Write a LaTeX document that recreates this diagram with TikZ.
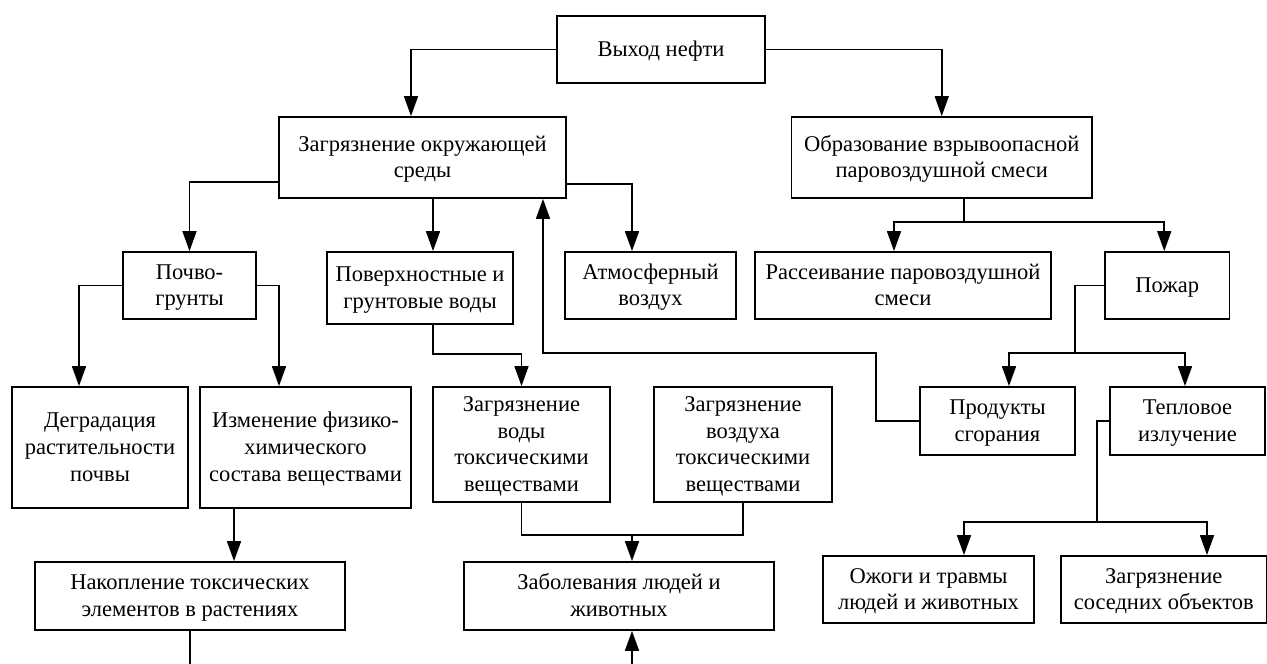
\documentclass[tikz,border=0pt]{standalone}
\usepackage{fontspec}
\setmainfont{Liberation Serif}
\usetikzlibrary{arrows.meta}
\newcommand\topstr{\rule{0pt}{19pt}}
\newcommand\botstr{\rule[-5pt]{0pt}{5pt}}
\tikzset{
  box/.style={draw, line width=1.8pt, rectangle, align=center, inner sep=0pt,
    font=\fontsize{22.5}{26.7}\selectfont},
  conn/.style={line width=1.6pt},
  arr/.style={conn, -{Triangle[length=20pt,width=14pt]}},
}
\begin{document}
\begin{tikzpicture}[x=1pt,y=1pt]
\useasboundingbox (0,0) rectangle (1267,-664);
% boxes
\node[box, minimum width=208pt, minimum height=67pt] (out) at (661,-49.3) {\topstr Выход нефти\botstr};
\node[box, minimum width=287pt, minimum height=81pt] (env) at (422.5,-157.5) {\topstr Загрязнение окружающей\\среды\botstr};
\node[box, minimum width=300.5pt, minimum height=81pt] (mix) at (941.75,-157.5) {\topstr Образование взрывоопасной\\паровоздушной смеси\botstr};
\node[box, minimum width=133pt, minimum height=67pt] (soil) at (189.5,-285.5) {\topstr Почво-\\грунты\botstr};
\node[box, minimum width=186pt, minimum height=72pt] (water) at (420,-288) {\topstr Поверхностные и\\грунтовые воды\botstr};
\node[box, minimum width=171pt, minimum height=67pt] (air) at (650.5,-285.5) {\topstr Атмосферный\\воздух\botstr};
\node[box, minimum width=296pt, minimum height=67pt] (disp) at (903,-285.5) {\topstr Рассеивание паровоздушной\\смеси\botstr};
\node[box, minimum width=124.5pt, minimum height=67pt] (fire) at (1167.25,-285.5) {\topstr Пожар\botstr};
\node[box, minimum width=176pt, minimum height=121pt] (degr) at (100,-447.5) {\topstr Деградация\\растительности\\почвы\botstr};
\node[box, minimum width=211pt, minimum height=121pt] (chem) at (305.5,-447.5) {\topstr Изменение физико-\\химического\\состава веществами\botstr};
\node[box, minimum width=177pt, minimum height=115pt] (wpol) at (521.5,-444.5) {\topstr Загрязнение\\воды\\токсическими\\веществами\botstr};
\node[box, minimum width=178pt, minimum height=115pt] (apol) at (743,-444.5) {\topstr Загрязнение\\воздуха\\токсическими\\веществами\botstr};
\node[box, minimum width=155pt, minimum height=68pt] (prod) at (997.5,-421) {\topstr Продукты\\сгорания\botstr};
\node[box, minimum width=155pt, minimum height=68pt] (heat) at (1187.5,-421) {\topstr Тепловое\\излучение\botstr};
\node[box, minimum width=310pt, minimum height=68pt] (accum) at (190,-596) {\topstr Накопление токсических\\элементов в растениях\botstr};
\node[box, minimum width=310pt, minimum height=68pt] (ill) at (619,-596) {\topstr Заболевания людей и\\животных\botstr};
\node[box, minimum width=211pt, minimum height=67pt] (burn) at (928.5,-589.5) {\topstr Ожоги и травмы\\людей и животных\botstr};
\node[box, minimum width=206pt, minimum height=67pt] (nbr) at (1163.75,-589.5) {\topstr Загрязнение\\соседних объектов\botstr};
% junction coordinates
\coordinate (j1) at (876,-353);
\coordinate (j2) at (543,-353);
\coordinate (jill) at (632,-535);
\coordinate (illin) at (632,-670);
\coordinate (accend) at (190,-670);
\coordinate (jm) at (964,-222);
\coordinate (jf) at (1075,-353);
\coordinate (jh) at (1097,-522);
% connectors
\draw[arr] (out.west) -| ([xshift=-11.5pt]env.north);
\draw[arr] (out.east) -| (mix.north);
\draw[arr] ([yshift=-24.5pt]env.west) -| (soil.north);
\draw[arr] ([xshift=10.5pt]env.south) -- ([xshift=10.5pt]env.south |- water.north);
\draw[arr] ([yshift=-26.5pt]env.east) -| ([xshift=-18.5pt]air.north);
\draw[arr] (prod.west) -| (j1) -- (j2) -- (j2 |- env.south);
\draw[arr] (soil.west) -| ([xshift=-21pt]degr.north);
\draw[arr] (soil.east) -| ([xshift=-26.5pt]chem.north);
\draw[arr] ([xshift=13pt]water.south) -- ++(0,-29) -| (wpol.north);
\draw[arr] ([xshift=-71.5pt]chem.south) -- ([xshift=-71.5pt]chem.south |- accum.north);
\draw[conn] (accum.south) -- (accend);
\draw[conn] (wpol.south) |- (jill);
\draw[conn] (apol.south) |- (jill);
\draw[arr] (jill) -- (jill |- ill.north);
\draw[arr] (illin) -- (illin |- ill.south);
\draw[conn] ([xshift=22.25pt]mix.south) -- (jm);
\draw[arr] (jm) -| ([xshift=-9pt]disp.north);
\draw[arr] (jm) -| ([xshift=-3pt]fire.north);
\draw[conn] (fire.west) -| (jf);
\draw[arr] (jf) -| ([xshift=11.5pt]prod.north);
\draw[arr] (jf) -| ([xshift=-2.5pt]heat.north);
\draw[conn] (heat.west) -| (jh);
\draw[arr] (jh) -| ([xshift=35.5pt]burn.north);
\draw[arr] (jh) -| ([xshift=43.25pt]nbr.north);
\end{tikzpicture}
\end{document}
